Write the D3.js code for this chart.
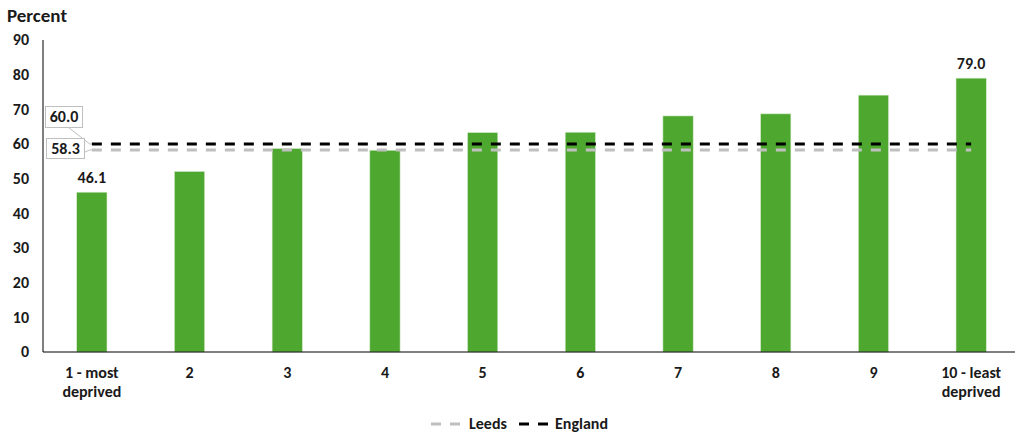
<!DOCTYPE html>
<html><head><meta charset="utf-8">
<script src="https://cdn.jsdelivr.net/npm/d3@7"></script>
<style>
body{margin:0;background:#fff;}
svg text{font-family:Carlito,Calibri,"Open Sans",Lato,sans-serif;font-weight:bold;fill:#1a1a1a;}
</style></head><body>
<svg id="c" width="1015" height="434"></svg>
<script>
const categories = ["1 - most|deprived","2","3","4","5","6","7","8","9","10 - least|deprived"];
const values = [46.1, 52.1, 58.7, 58.2, 63.3, 63.4, 68.1, 68.7, 74.1, 79.0];
const leedsValue = 58.3;
const englandValue = 60.0;
const yTicks = [0,10,20,30,40,50,60,70,80,90];

(function(){
const svg = d3.select("#c");
const mLeft = 43, mRight = 1020, mTop = 40, mBottom = 352;
const fs = 16;
const x = d3.scaleBand().domain(categories).range([mLeft, mRight]).paddingInner(0.69).paddingOuter(0.345);
const y = d3.scaleLinear().domain([0, 90]).range([mBottom, mTop]);

svg.append("g").selectAll("text").data(yTicks).join("text")
  .attr("x", 29).attr("y", d => y(d)).attr("dy", "0.33em")
  .attr("text-anchor", "end").attr("font-size", fs).text(d => d);

svg.append("text").attr("x", 7).attr("y", 22).attr("font-size", 19).text("Percent");

svg.append("g").selectAll("rect").data(values).join("rect")
  .attr("x", (d,i) => x(categories[i])).attr("width", x.bandwidth())
  .attr("y", d => y(d)).attr("height", d => y(0) - y(d))
  .attr("fill", "#4EA72E").attr("stroke", "#d8ecd0").attr("stroke-width", 0.6);

svg.append("line").attr("x1", mLeft).attr("x2", mLeft).attr("y1", mTop).attr("y2", mBottom).attr("stroke", "#000").attr("stroke-width", 1);
svg.append("line").attr("x1", mLeft).attr("x2", mRight - 2).attr("y1", mBottom).attr("y2", mBottom).attr("stroke", "#000").attr("stroke-width", 1);

const xl = svg.append("g").selectAll("text").data(categories).join("text")
  .attr("x", d => x(d) + x.bandwidth()/2).attr("y", 378)
  .attr("text-anchor", "middle").attr("font-size", fs);
xl.each(function(d){
  const parts = d.split("|");
  const t = d3.select(this);
  parts.forEach((p,i) => t.append("tspan").attr("x", x(d) + x.bandwidth()/2).attr("dy", i === 0 ? 0 : 19).text(p));
});

const xStart = x(categories[0]) + x.bandwidth()/2;
const xEnd = x(categories[categories.length-1]) + x.bandwidth()/2;
svg.append("line").attr("x1", xStart).attr("x2", xEnd).attr("y1", y(leedsValue)).attr("y2", y(leedsValue))
  .attr("stroke", "#bfbfbf").attr("stroke-width", 3).attr("stroke-dasharray", "10,9");
svg.append("line").attr("x1", xStart).attr("x2", xEnd).attr("y1", y(englandValue)).attr("y2", y(englandValue))
  .attr("stroke", "#000").attr("stroke-width", 3).attr("stroke-dasharray", "10,9");

[0, values.length-1].forEach(i => {
  svg.append("text").attr("x", x(categories[i]) + x.bandwidth()/2).attr("y", y(values[i]) - 9)
    .attr("text-anchor", "middle").attr("font-size", fs).text(values[i].toFixed(1));
});

function callout(val, bx, by, bw, bh) {
  const ly = y(val);
  svg.append("path").attr("d", `M${bx+bw-14},${by+bh} L${xStart-2},${ly} L${xStart},${ly}`)
    .attr("fill", "none").attr("stroke", "#bfbfbf").attr("stroke-width", 1);
  svg.append("rect").attr("x", bx).attr("y", by).attr("width", bw).attr("height", bh)
    .attr("fill", "#fff").attr("stroke", "#bfbfbf").attr("stroke-width", 1);
  svg.append("text").attr("x", bx + bw/2).attr("y", by + bh/2).attr("dy", "0.33em")
    .attr("text-anchor", "middle").attr("font-size", fs).text(val.toFixed(1));
}
callout(englandValue, 45.5, 106.5, 37, 21);
callout(leedsValue, 46.5, 138.5, 38, 20);

const lg = svg.append("g");
lg.append("line").attr("x1", 431).attr("x2", 460).attr("y1", 424).attr("y2", 424)
  .attr("stroke", "#bfbfbf").attr("stroke-width", 3).attr("stroke-dasharray", "10,9");
lg.append("text").attr("x", 469).attr("y", 424).attr("dy", "0.33em").attr("font-size", fs).text("Leeds");
lg.append("line").attr("x1", 519).attr("x2", 548).attr("y1", 424).attr("y2", 424)
  .attr("stroke", "#000").attr("stroke-width", 3).attr("stroke-dasharray", "10,9");
lg.append("text").attr("x", 555).attr("y", 424).attr("dy", "0.33em").attr("font-size", fs).text("England");
})();
</script></body></html>
